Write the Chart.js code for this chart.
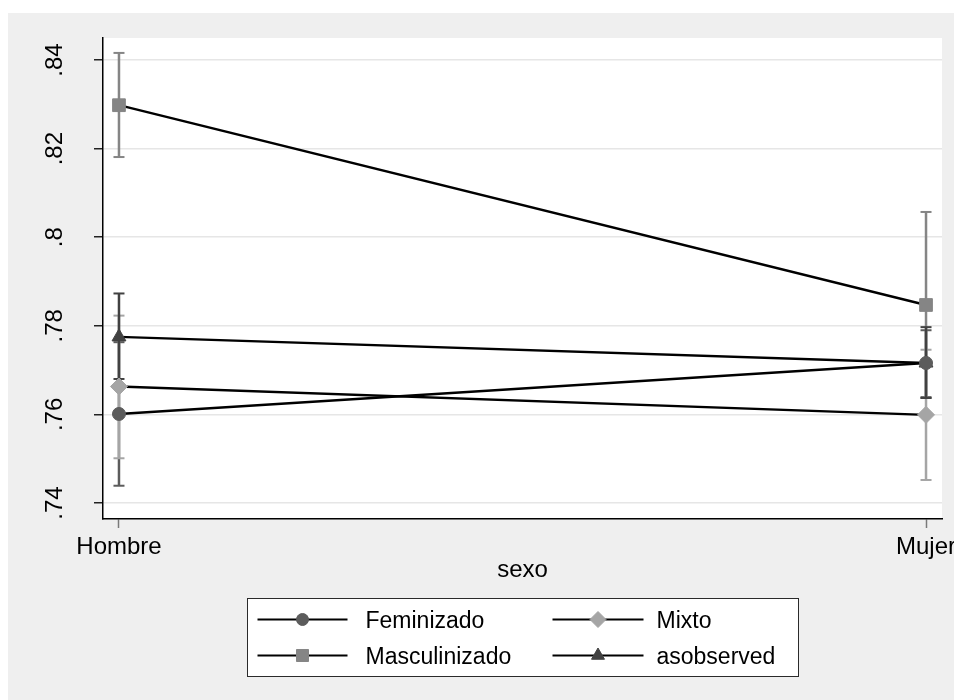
<!DOCTYPE html>
<html>
<head>
<meta charset="utf-8">
<script src="https://cdn.jsdelivr.net/npm/chart.js@4/dist/chart.umd.min.js"></script>
<style>
  html, body { margin: 0; padding: 0; background: #ffffff; }
  #c { display: block; }
</style>
</head>
<body>
<canvas id="c" width="954" height="700"></canvas>
<script>
// ---- data ----
const categories = ['Hombre', 'Mujer'];
const seriesNames = ['Feminizado', 'Masculinizado', 'Mixto', 'asobserved'];

const feminizado     = [0.7601, 0.7716];
const feminizadoLo   = [0.7439, 0.7639];
const feminizadoHi   = [0.7763, 0.7790];

const masculinizado   = [0.8298, 0.7847];
const masculinizadoLo = [0.8181, 0.7637];
const masculinizadoHi = [0.8416, 0.8057];

const mixto   = [0.7663, 0.7599];
const mixtoLo = [0.7501, 0.7452];
const mixtoHi = [0.7823, 0.7746];

const asobserved   = [0.7775, 0.7716];
const asobservedLo = [0.7680, 0.7637];
const asobservedHi = [0.7873, 0.7797];

const yTicks = [0.74, 0.76, 0.78, 0.80, 0.82, 0.84];
const xTicks = [0, 1];

// ---- styles ----
const FONT = 'Liberation Sans, Arial, Helvetica, sans-serif';
const seriesStyle = [
  { color: '#5c5c5c', style: 'circle',   radius: 6.5, ciOrder: 5 },
  { color: '#858585', style: 'rect',     radius: 9,   ciOrder: 4 },
  { color: '#a5a5a5', style: 'rectRot',  radius: 8.5, ciOrder: 3 },
  { color: '#414141', style: 'triangle', radius: 8,   ciOrder: 2 }
];
const seriesVals = [feminizado, masculinizado, mixto, asobserved];
const seriesLo   = [feminizadoLo, masculinizadoLo, mixtoLo, asobservedLo];
const seriesHi   = [feminizadoHi, masculinizadoHi, mixtoHi, asobservedHi];

const datasets = [];
seriesNames.forEach((name, s) => {
  const st = seriesStyle[s];
  // confidence interval (capped spike), drawn beneath the lines
  const ciData = [];
  categories.forEach((c, i) => {
    if (i > 0) ciData.push({ x: i - 0.5, y: null });
    ciData.push({ x: i, y: seriesLo[s][i] });
    ciData.push({ x: i, y: seriesHi[s][i] });
  });
  datasets.push({
    label: name + ' CI',
    data: ciData,
    borderColor: st.color,
    borderWidth: 2.5,
    pointStyle: 'line',
    pointRadius: 5.5,
    pointBorderWidth: 2,
    pointBorderColor: st.color,
    pointBackgroundColor: st.color,
    spanGaps: false,
    order: st.ciOrder
  });
});
seriesNames.forEach((name, s) => {
  const st = seriesStyle[s];
  datasets.push({
    label: name,
    data: categories.map((c, i) => ({ x: i, y: seriesVals[s][i] })),
    borderColor: '#000000',
    borderWidth: 2.4,
    pointStyle: st.style,
    pointRadius: st.radius,
    pointBackgroundColor: st.color,
    pointBorderColor: st.color,
    pointBorderWidth: 1,
    order: 0
  });
});

// background: white page, gray graph region, white plot region
const bgPlugin = {
  id: 'bg',
  beforeDraw(chart) {
    const { ctx, chartArea } = chart;
    ctx.save();
    ctx.fillStyle = '#ffffff';
    ctx.fillRect(0, 0, chart.width, chart.height);
    ctx.fillStyle = '#efefef';
    ctx.fillRect(8, 13, chart.width - 8, chart.height - 13);
    ctx.fillStyle = '#ffffff';
    ctx.fillRect(chartArea.left, chartArea.top, chartArea.right - chartArea.left, chartArea.bottom - chartArea.top);
    ctx.restore();
  }
};

// Stata-style boxed legend (2 columns)
const legendPlugin = {
  id: 'stataLegend',
  afterDraw(chart) {
    const { ctx, chartArea } = chart;
    const boxW = 551, boxH = 78;
    const cx = (chartArea.left + chartArea.right) / 2;
    const bx = Math.round(cx - boxW / 2) + 0.5;
    const by = chartArea.bottom + 79 + 0.5;
    ctx.save();
    ctx.fillStyle = '#ffffff';
    ctx.fillRect(bx, by, boxW, boxH);
    ctx.strokeStyle = '#2a2a2a';
    ctx.lineWidth = 1;
    ctx.strokeRect(bx, by, boxW, boxH);
    // order in grid: row-major Feminizado, Mixto / Masculinizado, asobserved
    const grid = [[0, 2], [1, 3]];
    const rowY = [by + 21, by + 57];
    const colLine = [[bx + 10, bx + 100], [bx + 305, bx + 396]];
    const colText = [bx + 118, bx + 409];
    ctx.font = '23px ' + FONT;
    ctx.textBaseline = 'middle';
    ctx.textAlign = 'left';
    grid.forEach((row, r) => {
      row.forEach((s, c) => {
        const y = rowY[r];
        const st = seriesStyle[s];
        ctx.strokeStyle = '#000000';
        ctx.lineWidth = 2;
        ctx.beginPath();
        ctx.moveTo(colLine[c][0], y);
        ctx.lineTo(colLine[c][1], y);
        ctx.stroke();
        ctx.fillStyle = st.color;
        ctx.strokeStyle = st.color;
        ctx.lineWidth = 1;
        Chart.helpers.drawPoint(ctx, { pointStyle: st.style, radius: st.radius - 0.5, rotation: 0, borderWidth: 1 },
          (colLine[c][0] + colLine[c][1]) / 2, y);
        ctx.fillStyle = '#000000';
        ctx.fillText(seriesNames[s], colText[c], y + 2);
      });
    });
    ctx.restore();
  }
};

new Chart(document.getElementById('c'), {
  type: 'line',
  data: { datasets },
  plugins: [bgPlugin, legendPlugin],
  options: {
    responsive: false,
    animation: false,
    events: [],
    layout: { padding: { left: 0, top: 38, right: 12, bottom: 115 } },
    plugins: { legend: { display: false }, tooltip: { enabled: false } },
    scales: {
      x: {
        type: 'linear',
        min: -0.0198,
        max: 1.0198,
        afterBuildTicks: (scale) => { scale.ticks = xTicks.map(v => ({ value: v })); },
        afterFit: (scale) => { scale.height = 66; scale.paddingLeft = 0; scale.paddingRight = 0; },
        ticks: {
          autoSkip: false,
          maxRotation: 0,
          minRotation: 0,
          padding: 5,
          color: '#000000',
          font: { family: FONT, size: 24 },
          callback: (v) => categories[v]
        },
        grid: {
          drawOnChartArea: false,
          drawTicks: true,
          tickLength: 9,
          tickColor: '#7a7a7a',
          tickWidth: 1.5
        },
        border: { display: true, color: '#000000', width: 1.5 },
        title: {
          display: true,
          text: 'sexo',
          color: '#000000',
          padding: { top: 0, bottom: 0 },
          font: { family: FONT, size: 24 }
        }
      },
      y: {
        type: 'linear',
        min: 0.73639,
        max: 0.84497,
        afterBuildTicks: (scale) => { scale.ticks = yTicks.map(v => ({ value: v })); },
        afterFit: (scale) => { scale.width = 103; scale.paddingTop = 0; scale.paddingBottom = 0; },
        ticks: {
          autoSkip: false,
          minRotation: 90,
          maxRotation: 90,
          crossAlign: 'center',
          padding: 22,
          color: '#000000',
          font: { family: FONT, size: 24 },
          callback: (v) => {
            let s = (Math.round(v * 100) / 100).toString();
            return s.replace(/^0/, '');
          }
        },
        grid: {
          color: '#e6e6e6',
          lineWidth: 1.5,
          drawTicks: true,
          tickLength: 9,
          tickColor: '#222222',
          tickWidth: 1.5
        },
        border: { display: true, color: '#000000', width: 1.5 }
      }
    }
  }
});
</script>
</body>
</html>
